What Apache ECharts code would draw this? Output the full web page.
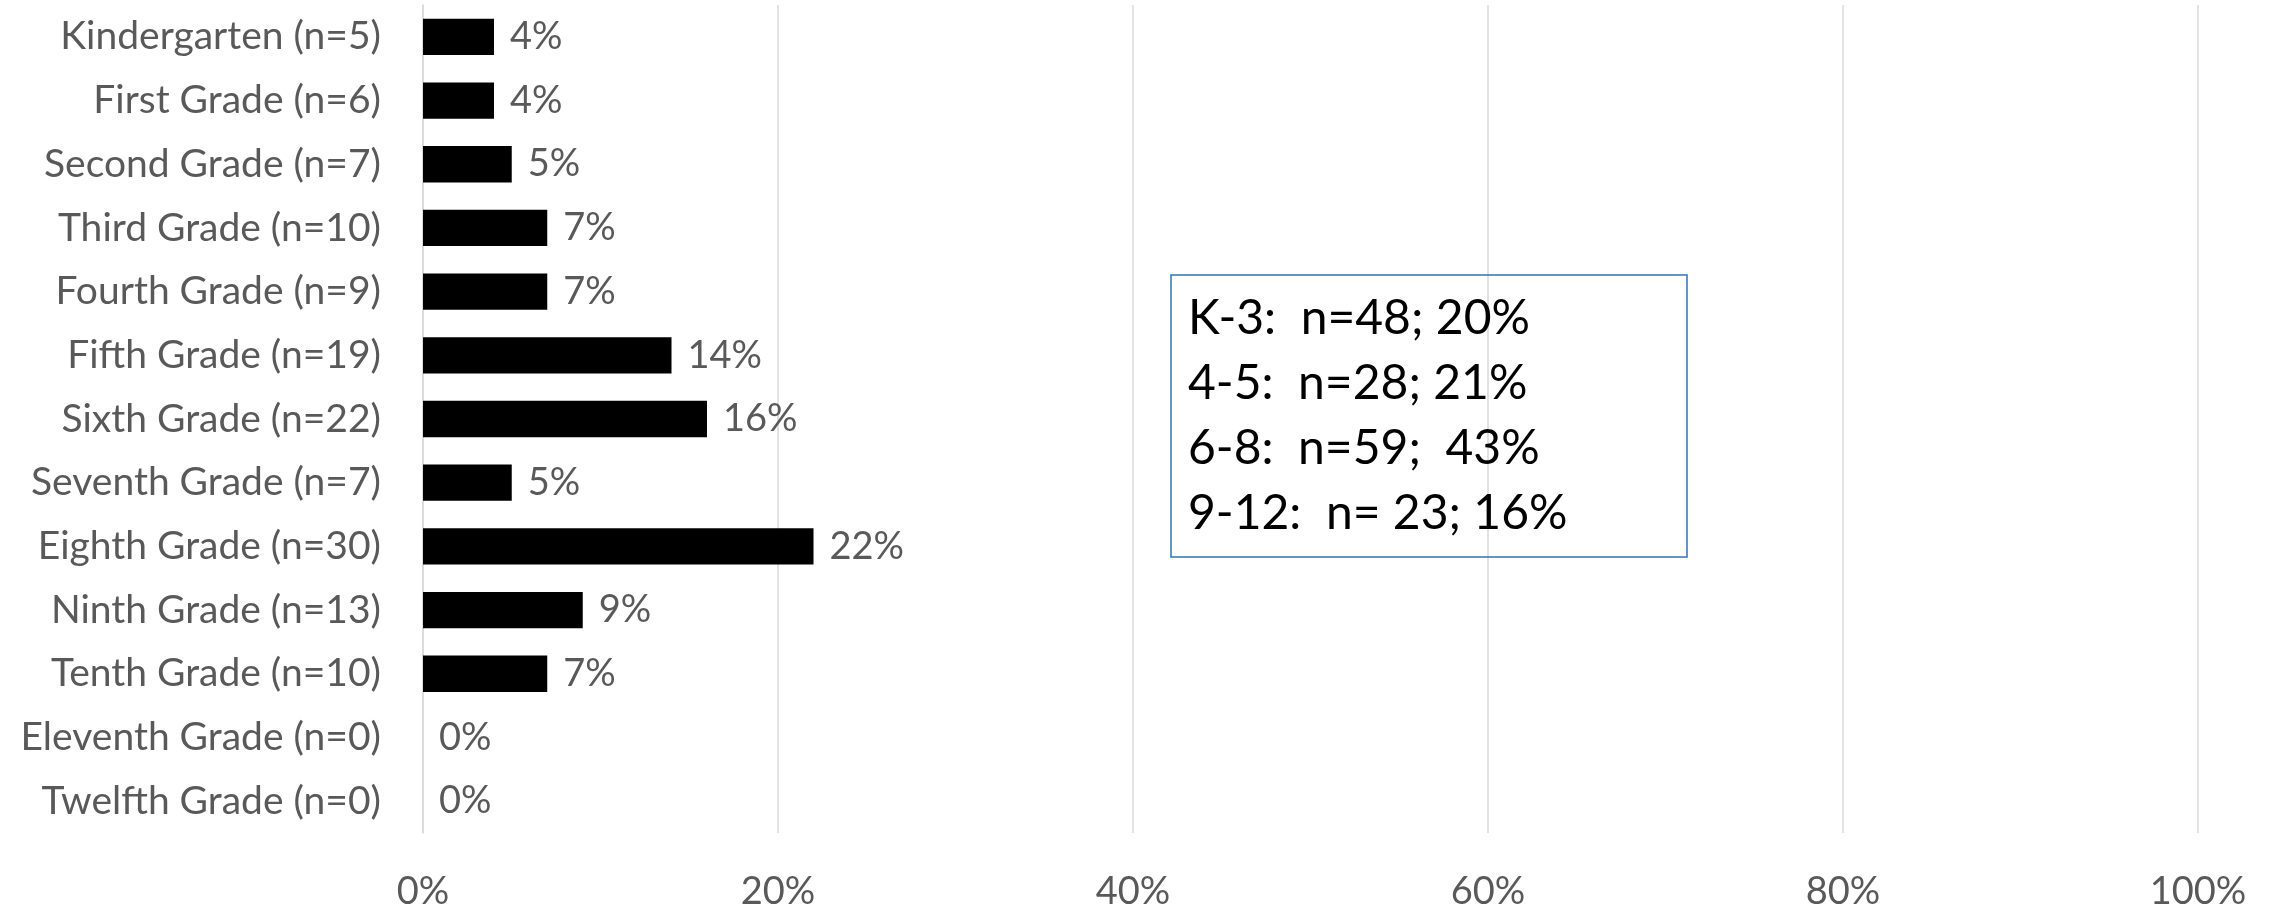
<!DOCTYPE html>
<html>
<head>
<meta charset="utf-8">
<script src="https://cdn.jsdelivr.net/npm/echarts@6/dist/echarts.min.js"></script>
<style>
html,body{margin:0;padding:0;background:#fff;}
#chart{width:2272px;height:911px;}
</style>
</head>
<body>
<div id="chart"></div>
<script>
const categories = [
  'Kindergarten (n=5)', 'First Grade (n=6)', 'Second Grade (n=7)', 'Third Grade (n=10)',
  'Fourth Grade (n=9)', 'Fifth Grade (n=19)', 'Sixth Grade (n=22)', 'Seventh Grade (n=7)',
  'Eighth Grade (n=30)', 'Ninth Grade (n=13)', 'Tenth Grade (n=10)', 'Eleventh Grade (n=0)',
  'Twelfth Grade (n=0)'
];
const percentValues = [4, 4, 5, 7, 7, 14, 16, 5, 22, 9, 7, 0, 0];
const axisTicks = [0, 20, 40, 60, 80, 100];
const summaryLines = [
  'K-3:  n=48; 20%',
  '4-5:  n=28; 21%',
  '6-8:  n=59;  43%',
  '9-12:  n= 23; 16%'
];

const FONT = 'Lato, "Open Sans", "Liberation Sans", sans-serif';
const chart = echarts.init(document.getElementById('chart'), null, {renderer: 'canvas'});

const graphicEls = [{
  type: 'rect',
  shape: {x: 1171, y: 275, width: 516, height: 282},
  style: {fill: 'none', stroke: '#2E75B6', lineWidth: 1.5},
  z: 10
}];
summaryLines.forEach((t, i) => {
  graphicEls.push({
    type: 'text',
    x: 1188,
    y: 319 + i * 64.7,
    style: {text: t, fill: '#000', font: '48px ' + FONT, textVerticalAlign: 'middle', textAlign: 'left'},
    z: 11
  });
});

chart.setOption({
  animation: false,
  backgroundColor: '#fff',
  grid: {left: 423, right: 74, top: 5, bottom: 73, containLabel: false},
  xAxis: {
    type: 'value',
    min: axisTicks[0],
    max: axisTicks[axisTicks.length - 1],
    interval: axisTicks[1] - axisTicks[0],
    axisLine: {show: false},
    axisTick: {show: false},
    splitLine: {show: true, lineStyle: {color: '#d9d9d9', width: 1.5}},
    axisLabel: {formatter: '{value}%', color: '#595959', fontSize: 38, fontFamily: FONT, margin: 40}
  },
  yAxis: {
    type: 'category',
    data: categories,
    inverse: true,
    axisLine: {show: true, lineStyle: {color: '#d9d9d9', width: 1.5}},
    axisTick: {show: false},
    splitLine: {show: false},
    axisLabel: {color: '#595959', fontSize: 39, fontFamily: FONT, margin: 42, padding: [7, 0, 0, 0]}
  },
  series: [{
    type: 'bar',
    data: percentValues,
    barWidth: '57%',
    itemStyle: {color: '#000'},
    label: {
      show: true,
      position: 'right',
      distance: 16,
      formatter: '{c}%',
      color: '#595959',
      fontSize: 38,
      fontFamily: FONT,
      padding: [9, 0, 0, 0]
    }
  }],
  graphic: graphicEls
});
</script>
</body>
</html>
